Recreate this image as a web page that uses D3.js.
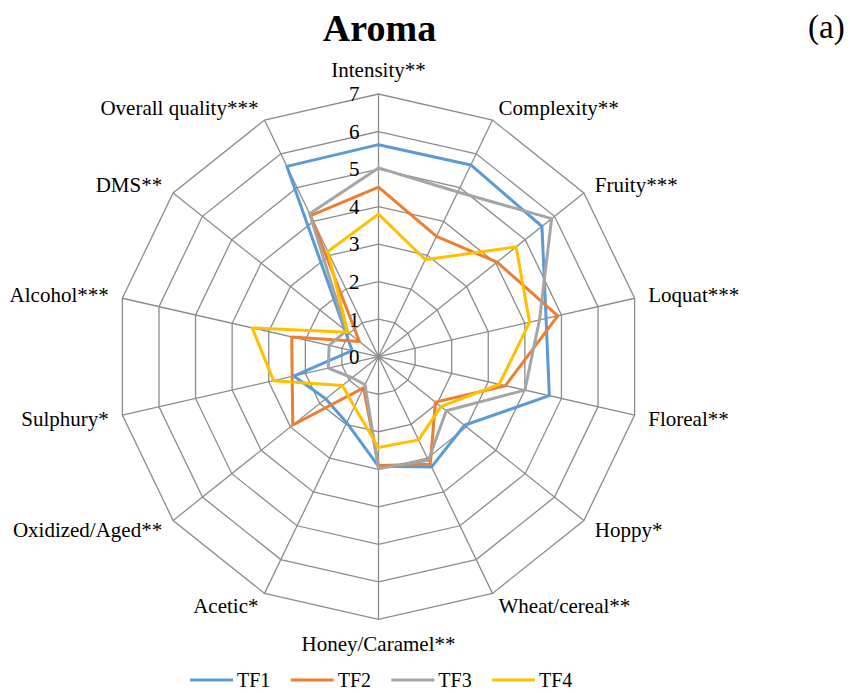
<!DOCTYPE html>
<html lang="en">
<head>
    <meta charset="UTF-8">
    <title>Aroma</title>
    <script src="https://d3js.org/d3.v7.min.js"></script>
    <style>
        body { margin: 0; background: #fff; }
    </style>
</head>
<body>
    <div id="chart"></div>
    <script>
        const ancho = 852;
        const alto = 693;
        const fuente = "'Times New Roman', 'Liberation Serif', Tinos, 'DejaVu Serif', serif";

        // Ejes (atributos sensoriales)
        const atributos = ["Intensity**", "Complexity**", "Fruity***", "Loquat***", "Floreal**",
            "Hoppy*", "Wheat/cereal**", "Honey/Caramel**", "Acetic*", "Oxidized/Aged**",
            "Sulphury*", "Alcohol***", "DMS**", "Overall quality***"];

        // Valores de cada muestra
        const tf1 = [5.65, 5.67, 5.57, 4.58, 4.67, 2.93, 3.26, 2.92, 1.95, 1.80, 2.32, 0.72, 1.15, 5.63];
        const tf2 = [4.52, 3.56, 4.04, 4.90, 3.47, 1.94, 3.18, 2.90, 0.92, 2.92, 2.36, 2.37, 0.65, 4.17];
        const tf3 = [5.03, 4.87, 5.90, 4.40, 4.00, 2.31, 3.06, 2.98, 0.83, 0.90, 1.37, 1.35, 1.10, 4.23];
        const tf4 = [3.80, 2.87, 4.69, 4.13, 3.30, 2.13, 2.46, 2.42, 1.48, 1.23, 2.87, 3.45, 1.05, 3.11];

        const series = ["TF1", "TF2", "TF3", "TF4"];
        const colores = ["#5B9BD5", "#ED7D31", "#A5A5A5", "#FFC000"];
        const ticks = [0, 1, 2, 3, 4, 5, 6, 7];

        const datos = [tf1, tf2, tf3, tf4];

        const cx = 378.5, cy = 356.7;
        const radio = 262.7;

        const svg = d3.select("#chart")
            .append("svg")
            .attr("width", ancho)
            .attr("height", alto)
            .attr("font-family", fuente);

        const escalaR = d3.scaleLinear().domain([0, 7]).range([0, radio]);
        const escalaA = d3.scalePoint()
            .domain(d3.range(atributos.length + 1))
            .range([0, 2 * Math.PI]);
        const angulo = i => escalaA(i);

        const g = svg.append("g").attr("transform", `translate(${cx},${cy})`);

        // Rejilla: polígonos concéntricos
        const linea = d3.lineRadial()
            .angle((d, i) => angulo(i))
            .radius(d => escalaR(d))
            .curve(d3.curveLinearClosed);

        g.selectAll(".anillo")
            .data(ticks.filter(t => t > 0))
            .enter()
            .append("path")
            .attr("d", t => linea(atributos.map(() => t)))
            .attr("fill", "none")
            .attr("stroke", "#8c8c8c")
            .attr("stroke-width", 1.3);

        // Radios
        g.selectAll(".radio")
            .data(atributos)
            .enter()
            .append("line")
            .attr("x1", 0).attr("y1", 0)
            .attr("x2", (d, i) => escalaR(7) * Math.sin(angulo(i)))
            .attr("y2", (d, i) => -escalaR(7) * Math.cos(angulo(i)))
            .attr("stroke", "#8c8c8c")
            .attr("stroke-width", 1.3);

        // Series
        g.selectAll(".serie")
            .data(datos)
            .enter()
            .append("path")
            .attr("d", d => linea(d))
            .attr("fill", "none")
            .attr("stroke", (d, i) => colores[i])
            .attr("stroke-width", 3)
            .attr("stroke-linejoin", "round");

        // Etiquetas de escala
        g.selectAll(".tick")
            .data(ticks)
            .enter()
            .append("text")
            .attr("x", -19)
            .attr("y", t => -escalaR(t))
            .attr("dy", "0.35em")
            .attr("text-anchor", "end")
            .attr("font-size", 21)
            .text(t => t);

        // Etiquetas de los ejes
        g.selectAll(".etiqueta")
            .data(atributos)
            .enter()
            .append("text")
            .attr("x", (d, i) => {
                const s = Math.sin(angulo(i));
                return Math.abs(s) < 0.01 ? 0 : (radio + 14) * s;
            })
            .attr("y", (d, i) => {
                const c = Math.cos(angulo(i));
                if (Math.abs(c) > 0.99) return -(radio + 24) * c;
                return -(radio + 14) * c;
            })
            .attr("dy", "0.35em")
            .attr("text-anchor", (d, i) => {
                const s = Math.sin(angulo(i));
                return Math.abs(s) < 0.01 ? "middle" : (s > 0 ? "start" : "end");
            })
            .attr("font-size", 21)
            .text(d => d);

        // Título
        svg.append("text")
            .attr("x", cx + 1)
            .attr("y", 41)
            .attr("text-anchor", "middle")
            .attr("font-size", 38)
            .attr("font-weight", "bold")
            .text("Aroma");

        svg.append("text")
            .attr("x", 808)
            .attr("y", 38)
            .attr("font-size", 33)
            .text("(a)");

        // Leyenda
        const leyendaX = d3.scalePoint().domain(series).range([190, 492]);
        const leyenda = svg.selectAll(".leyenda")
            .data(series)
            .enter()
            .append("g")
            .attr("transform", d => `translate(${leyendaX(d)},680)`);

        leyenda.append("line")
            .attr("x1", 0).attr("x2", 43)
            .attr("y1", 0).attr("y2", 0)
            .attr("stroke", (d, i) => colores[i])
            .attr("stroke-width", 3);

        leyenda.append("text")
            .attr("x", 47)
            .attr("dy", "0.35em")
            .attr("font-size", 20)
            .text(d => d);
    </script>
</body>
</html>
